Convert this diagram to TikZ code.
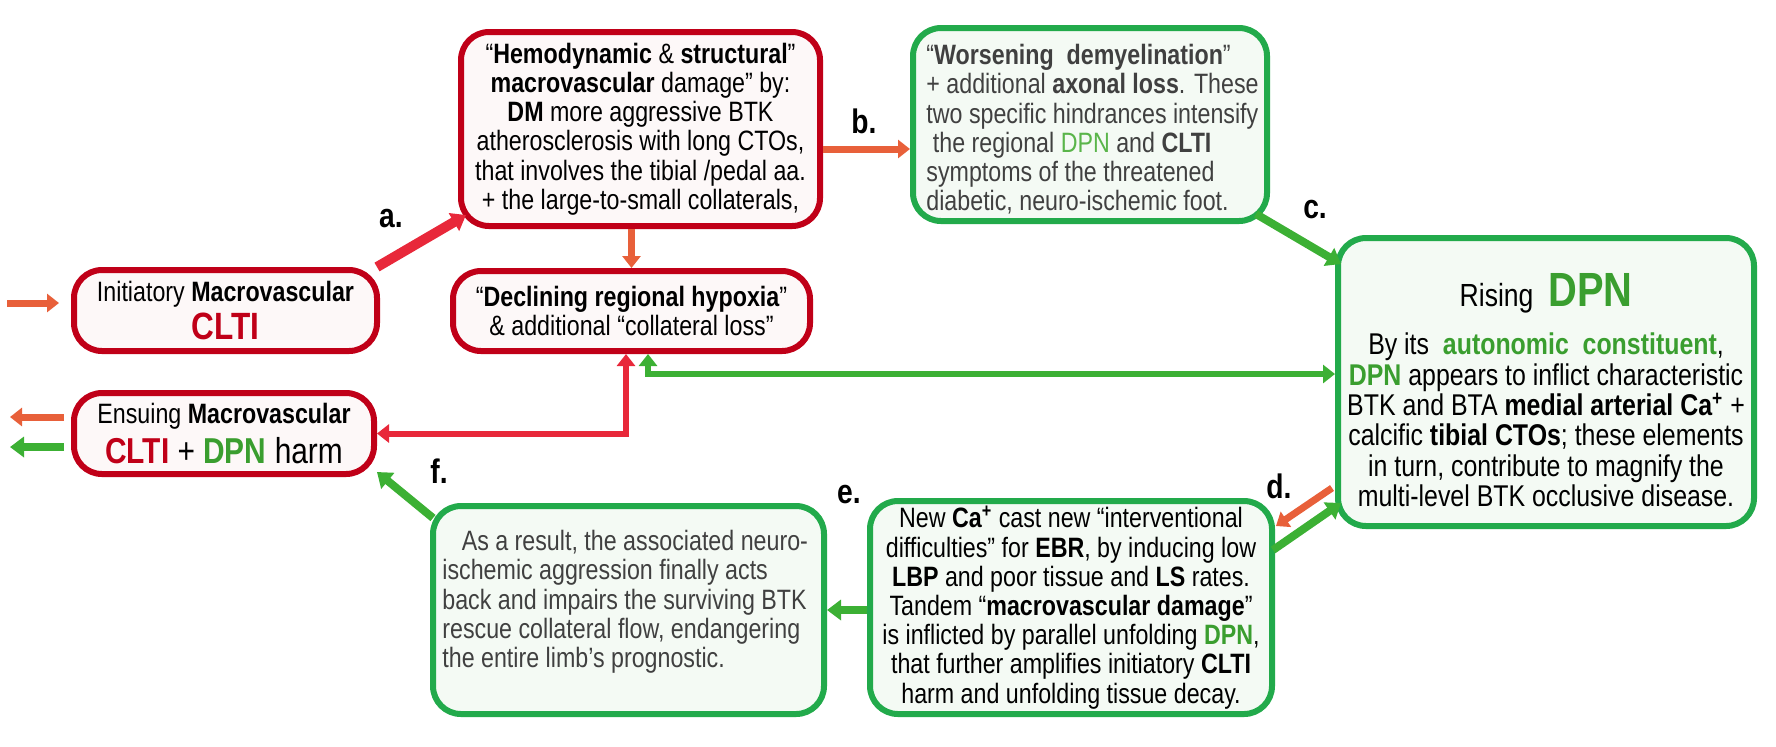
\documentclass[tikz,border=0pt]{standalone}
\usepackage{fontspec}
\setmainfont{Liberation Sans}[FakeStretch=0.83]
\usetikzlibrary{arrows.meta,calc}
\definecolor{rbox}{HTML}{C00018}
\definecolor{gbox}{HTML}{22AA4B}
\definecolor{rarr}{HTML}{E8283A}
\definecolor{oarr}{HTML}{E8603A}
\definecolor{garr}{HTML}{3CB034}
\definecolor{dpn}{HTML}{3A9E2F}
\definecolor{dpnl}{HTML}{5AB54A}
\definecolor{gtext}{HTML}{404040}
\newcommand{\dpnt}[1]{{\bfseries\color{dpn}#1}}
\newcommand{\cltit}[1]{{\bfseries\color{rbox}#1}}
\begin{document}
\begin{tikzpicture}[x=0.5pt,y=-0.5pt,
  every node/.style={font=\fontsize{14}{14.6}\selectfont, inner sep=0pt},
  rb/.style={draw=rbox, line width=3pt, rounded corners=14pt, fill={rgb,255:red,253;green,248;blue,248}},
  gb/.style={draw=gbox, line width=3pt, rounded corners=14pt, fill={rgb,255:red,244;green,250;blue,244}},
  tip/.style={-{Triangle[length=7pt,width=10pt]}},
  rarrow/.style={tip, draw=rarr, line width=5pt},
  oarrow/.style={draw=oarr, line width=3.5pt, -{Triangle[length=6pt,width=9pt]}},
  garrow/.style={tip, draw=garr, line width=4pt},
  lab/.style={font=\fontsize{17}{19}\selectfont\bfseries}]
\useasboundingbox (0,0) rectangle (1776,746);
% boxes
\node[rb, minimum width=151.5pt, minimum height=40.5pt, align=center] (A) at (225.5,310.5)
  {Initiatory \textbf{Macrovascular}\\[2pt] {\fontsize{19}{20}\selectfont\cltit{CLTI}}};
\node[rb, minimum width=179.5pt, minimum height=97pt, align=center] (B) at (640.5,129)
  {“\textbf{Hemodynamic} \& \textbf{structural}”\\ \textbf{macrovascular} damage” by:\\ \textbf{DM} more aggressive BTK\\ atherosclerosis with long CTOs,\\ that involves the tibial /pedal aa.\\ + the large-to-small collaterals,};
\node[rb, minimum width=178.5pt, minimum height=40pt, align=center] (C) at (631.5,311)
  {“\textbf{Declining regional hypoxia}”\\ \& additional “collateral loss”};
\node[rb, minimum width=150pt, minimum height=40.5pt, align=center] (D) at (224,433.5)
  {Ensuing \textbf{Macrovascular}\\[3pt] {\fontsize{18}{19}\selectfont\cltit{CLTI} + \dpnt{DPN} harm}};
\node[gb, minimum width=177pt, minimum height=96.5pt] (E) at (1090,124.5) {};
\node[align=left, text=gtext, anchor=north west] at (926,44)
  {“\textbf{Worsening\ \ demyelination}”\\ + additional \textbf{axonal loss}. These\\ two specific hindrances intensify\\ \ the regional {\color{dpnl}DPN} and \textbf{CLTI}\\ symptoms of the threatened\\ diabetic, neuro-ischemic foot.};
\node[gb, minimum width=208pt, minimum height=144pt] (F) at (1546,382) {};
\node[align=center, font=\fontsize{15}{15.2}\selectfont] at (1546,420)
  {By its\ \ \dpnt{autonomic\ \ constituent},\\ \dpnt{DPN} appears to inflict characteristic\\ BTK and BTA \textbf{medial arterial Ca\textsuperscript{+}} +\\ calcific \textbf{tibial CTOs}; these elements\\ in turn, contribute to magnify the\\ multi-level BTK occlusive disease.};
\node[font=\fontsize{16}{18}\selectfont] at (1546,293) {Rising\ \ {\fontsize{24}{26}\selectfont\dpnt{DPN}}};
\node[gb, minimum width=201pt, minimum height=106.5pt, align=center] (G) at (1071,607.5)
  {New \textbf{Ca\textsuperscript{+}} cast new “interventional\\ difficulties” for \textbf{EBR}, by inducing low\\ \textbf{LBP} and poor tissue and \textbf{LS} rates.\\ Tandem “\textbf{macrovascular damage}”\\ is inflicted by parallel unfolding \dpnt{DPN},\\ that further amplifies initiatory \textbf{CLTI}\\ harm and unfolding tissue decay.};
\node[gb, minimum width=195.5pt, minimum height=104pt] (H) at (628.5,610) {};
\node[align=left, text=gtext, anchor=north west] at (442,530)
  {\ \ \ As a result, the associated neuro-\\ ischemic aggression finally acts\\ back and impairs the surviving BTK\\ rescue collateral flow, endangering\\ the entire limb’s prognostic.};
% labels
\node[lab] at (391,219) {a.};
\node[lab] at (864,121) {b.};
\node[lab] at (1315,210) {c.};
\node[lab] at (1279,486) {d.};
\node[lab] at (849,495) {e.};
\node[lab] at (439,471) {f.};
% connectors
\draw[rarrow] ([xshift=-1.5pt]A.north east) -- ([xshift=4pt,yshift=7pt]B.south west);
\draw[oarrow] ([yshift=-10pt]B.east) -- ([yshift=-10pt]B.east -| E.west);
\draw[oarrow] ([xshift=-4.5pt]B.south) -- ([xshift=-4.5pt]B.south |- C.north);
\draw[garrow] ([xshift=-7pt,yshift=5pt]E.south east) -- ([xshift=3pt,yshift=-14.5pt]F.north west);
\draw[draw=rarr, line width=3pt, {Triangle[length=6pt,width=9pt]}-{Triangle[length=6pt,width=9pt]}] (D.east) -| ([xshift=-2.75pt]C.south);
\draw[draw=garr, line width=3pt, {Triangle[length=6pt,width=9pt]}-{Triangle[length=6pt,width=9pt]}] ([yshift=4pt]F.west) -| ([xshift=8.25pt]C.south);
\draw[oarrow] ([xshift=-1.5pt,yshift=20.5pt]F.south west) -- ([xshift=0.5pt,yshift=-14pt]G.north east);
\draw[garrow] ([xshift=-1pt,yshift=-26pt]G.north east) -- ([xshift=3pt,yshift=13pt]F.south west);
\draw[garrow] ([yshift=-1.25pt]G.west) -- ([yshift=-1.25pt]G.west -| H.east);
\draw[garrow] ([xshift=1.5pt,yshift=-7.5pt]H.north west) -- ([yshift=2.5pt]D.south east);
\coordinate (l1) at (7,303);
\coordinate (l2) at (10,417);
\coordinate (l3) at (10,447);
\draw[oarrow] (l1) -- ([xshift=-6pt,yshift=3.75pt]A.west);
\draw[oarrow] ([xshift=-3.5pt,yshift=8.25pt]D.west) -- (l2);
\draw[garrow] ([xshift=-3.5pt,yshift=-6.75pt]D.west) -- (l3);
\end{tikzpicture}
\end{document}
